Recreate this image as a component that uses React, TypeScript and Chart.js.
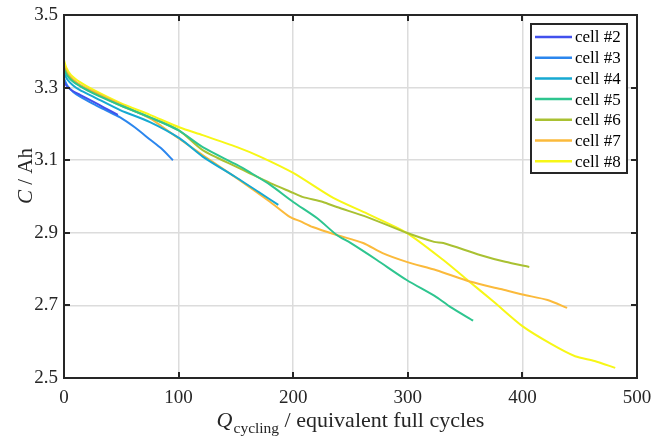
import React, { useEffect, useRef } from "react";
import { Chart, registerables } from "chart.js";

Chart.register(...registerables);

const cellNames = ["cell #2", "cell #3", "cell #4", "cell #5", "cell #6", "cell #7", "cell #8"];
const cellColors = ["#4150ED", "#2B86EE", "#16A9D2", "#2EC58F", "#A9C132", "#FBBA3B", "#F7F716"];

const cell2X = [0, 3, 8, 14, 25, 35, 47];
const cell2Y = [3.315, 3.302, 3.29, 3.28, 3.262, 3.245, 3.225];

const cell3X = [0, 3, 8, 14, 25, 35, 49, 62, 75, 85, 95];
const cell3Y = [3.325, 3.305, 3.288, 3.275, 3.256, 3.24, 3.218, 3.19, 3.157, 3.132, 3.1];

const cell4X = [0, 3, 8, 14, 25, 49, 75, 101, 121, 151, 170, 187];
const cell4Y = [3.34, 3.322, 3.306, 3.293, 3.276, 3.238, 3.205, 3.16, 3.11, 3.051, 3.012, 2.977];

const cell5X = [0, 3, 8, 15, 25, 50, 75, 100, 121, 151, 162, 180, 200, 221, 238, 250, 273, 299, 325, 337, 357];
const cell5Y = [3.35, 3.332, 3.316, 3.302, 3.285, 3.25, 3.218, 3.182, 3.136, 3.087, 3.067, 3.032, 2.985, 2.94, 2.894, 2.872, 2.825, 2.77, 2.723, 2.696, 2.658];

const cell6X = [0, 3, 8, 15, 25, 50, 75, 100, 121, 151, 162, 180, 200, 208, 226, 238, 264, 299, 323, 331, 363, 385, 406];
const cell6Y = [3.355, 3.335, 3.318, 3.303, 3.287, 3.25, 3.218, 3.183, 3.128, 3.081, 3.064, 3.037, 3.01, 2.999, 2.985, 2.971, 2.944, 2.9, 2.875, 2.872, 2.839, 2.82, 2.806];

const cell7X = [0, 3, 8, 15, 25, 50, 75, 92, 121, 151, 180, 197, 206, 217, 238, 261, 278, 299, 325, 355, 381, 400, 422, 439];
const cell7Y = [3.36, 3.34, 3.322, 3.306, 3.29, 3.252, 3.215, 3.178, 3.114, 3.05, 2.985, 2.944, 2.932, 2.916, 2.894, 2.872, 2.844, 2.82, 2.797, 2.765, 2.745, 2.73, 2.715, 2.693];

const cell8X = [0, 2, 6, 14, 25, 49, 75, 101, 121, 151, 171, 200, 235, 265, 299, 331, 352, 375, 400, 425, 446, 463, 481];
const cell8Y = [3.376, 3.355, 3.335, 3.315, 3.295, 3.258, 3.225, 3.19, 3.169, 3.136, 3.11, 3.065, 2.996, 2.952, 2.9, 2.825, 2.77, 2.71, 2.643, 2.594, 2.56, 2.547, 2.528];

const cellXs = [cell2X, cell3X, cell4X, cell5X, cell6X, cell7X, cell8X];
const cellYs = [cell2Y, cell3Y, cell4Y, cell5Y, cell6Y, cell7Y, cell8Y];

const xTicks = [0, 100, 200, 300, 400, 500];
const yTicks = [2.5, 2.7, 2.9, 3.1, 3.3, 3.5];

const SERIF = "'Liberation Serif', 'Times New Roman', serif";
const INK = "#262626";

const decorPlugin = {
  id: "decor",
  afterDraw(chart: any) {
    const { ctx, chartArea } = chart;
    const { left, right, top, bottom } = chartArea;
    const xs = chart.scales.x;
    const ys = chart.scales.y;
    ctx.save();
    ctx.strokeStyle = INK;
    ctx.lineWidth = 2;
    ctx.strokeRect(left, top, right - left, bottom - top);
    const tl = 6;
    ctx.beginPath();
    xTicks.forEach((v) => {
      const px = Math.round(xs.getPixelForValue(v));
      ctx.moveTo(px, bottom);
      ctx.lineTo(px, bottom - tl);
      ctx.moveTo(px, top);
      ctx.lineTo(px, top + tl);
    });
    yTicks.forEach((v) => {
      const py = Math.round(ys.getPixelForValue(v));
      ctx.moveTo(left, py);
      ctx.lineTo(left + tl, py);
      ctx.moveTo(right, py);
      ctx.lineTo(right - tl, py);
    });
    ctx.stroke();

    ctx.fillStyle = INK;
    ctx.textBaseline = "alphabetic";
    const fMain = `22px ${SERIF}`;
    const fItal = `italic 22px ${SERIF}`;
    const fSub = `15.5px ${SERIF}`;
    ctx.font = fItal;
    const wQ = ctx.measureText("Q").width;
    ctx.font = fSub;
    const wSub = ctx.measureText("cycling").width;
    ctx.font = fMain;
    const rest = " / equivalent full cycles";
    const wRest = ctx.measureText(rest).width;
    const total = wQ + wSub + 1 + wRest;
    let x0 = (left + right) / 2 - total / 2;
    const by = 427;
    ctx.font = fItal;
    ctx.fillText("Q", x0, by);
    x0 += wQ + 1;
    ctx.font = fSub;
    ctx.fillText("cycling", x0, by + 6);
    x0 += wSub;
    ctx.font = fMain;
    ctx.fillText(rest, x0, by);

    ctx.save();
    ctx.translate(32, 176);
    ctx.rotate(-Math.PI / 2);
    const fYMain = `21px ${SERIF}`;
    const fYItal = `italic 21px ${SERIF}`;
    ctx.font = fYItal;
    const wC = ctx.measureText("C").width;
    ctx.font = fYMain;
    const yRest = " / Ah";
    const wYR = ctx.measureText(yRest).width;
    const y0 = -(wC + wYR) / 2;
    ctx.font = fYItal;
    ctx.fillText("C", y0, 0);
    ctx.font = fYMain;
    ctx.fillText(yRest, y0 + wC, 0);
    ctx.restore();

    const lx = 531, ly = 24, lw = 96, lh = 149;
    ctx.fillStyle = "#ffffff";
    ctx.fillRect(lx, ly, lw, lh);
    ctx.strokeStyle = INK;
    ctx.lineWidth = 2;
    ctx.strokeRect(lx, ly, lw, lh);
    ctx.font = `17px ${SERIF}`;
    ctx.textBaseline = "middle";
    cellNames.forEach((name, i) => {
      const yy = 37 + i * 20.7;
      ctx.strokeStyle = cellColors[i];
      ctx.lineWidth = 2.5;
      ctx.beginPath();
      ctx.moveTo(535, yy);
      ctx.lineTo(572, yy);
      ctx.stroke();
      ctx.fillStyle = "#000";
      ctx.fillText(name, 575, yy + 1);
    });
    ctx.restore();
  },
};

export default function App() {
  const ref = useRef<HTMLCanvasElement>(null);
  useEffect(() => {
    document.body.style.margin = "0";
    const datasets = cellNames.map((name, i) => ({
      label: name,
      data: cellXs[i].map((x, j) => ({ x, y: cellYs[i][j] })),
      borderColor: cellColors[i],
      backgroundColor: cellColors[i],
      borderWidth: 2,
      pointRadius: 0,
      tension: 0.25,
      fill: false,
    }));
    const chart = new Chart(ref.current as HTMLCanvasElement, {
      type: "line",
      data: { datasets },
      options: {
        animation: false,
        responsive: false,
        devicePixelRatio: 1,
        layout: { padding: { top: 15, right: 14, left: 0, bottom: 0 } },
        plugins: { legend: { display: false }, tooltip: { enabled: false } },
        scales: {
          x: {
            type: "linear",
            min: 0,
            max: 500,
            afterBuildTicks: (s: any) => {
              s.ticks = xTicks.map((v) => ({ value: v }));
            },
            afterFit: (s: any) => {
              s.height = 66;
              s.paddingLeft = 0;
              s.paddingRight = 0;
            },
            grid: { color: "#dcdcdc", lineWidth: 1.5, drawTicks: false },
            border: { display: false },
            ticks: {
              padding: 9,
              color: INK,
              font: { family: SERIF, size: 19 },
              maxRotation: 0,
              callback: (v: any) => String(v),
            },
          },
          y: {
            type: "linear",
            min: 2.5,
            max: 3.5,
            afterBuildTicks: (s: any) => {
              s.ticks = yTicks.map((v) => ({ value: v }));
            },
            afterFit: (s: any) => {
              s.width = 64;
              s.paddingTop = 0;
              s.paddingBottom = 0;
            },
            grid: { color: "#dcdcdc", lineWidth: 1.5, drawTicks: false },
            border: { display: false },
            ticks: {
              padding: 6,
              color: INK,
              font: { family: SERIF, size: 19 },
              callback: (v: any) => Number(v).toFixed(1),
            },
          },
        },
      },
      plugins: [decorPlugin],
    } as any);
    return () => chart.destroy();
  }, []);
  return (
    <div style={{ position: "absolute", left: 0, top: 0 }}>
      <canvas ref={ref} width={651} height={444} style={{ display: "block", width: 651, height: 444 }} />
    </div>
  );
}
